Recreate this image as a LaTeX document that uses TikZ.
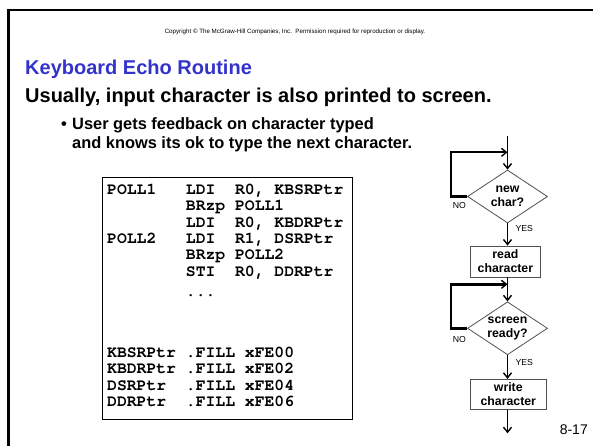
\documentclass[tikz,border=0pt]{standalone}
\usepackage{fontspec}
\setmainfont{Liberation Sans}
\newfontfamily\codefont{texgyrecursor}[Extension=.otf,UprightFont=*-regular,BoldFont=*-bold]
\usetikzlibrary{shapes.geometric,arrows.meta}
\definecolor{titleblue}{RGB}{51,51,204}
\definecolor{edgegray}{RGB}{80,80,80}

\begin{document}
\begin{tikzpicture}[x=1pt,y=-1pt,
  codeline/.style={anchor=base west,inner sep=0pt,font=\codefont\bfseries\fontsize{16.4}{16}\selectfont},
  chartfont/.style={font=\bfseries\fontsize{12.3}{14}\selectfont},
  decision/.style={diamond,aspect=1.5,draw=edgegray,line width=0.8pt,minimum width=80pt,minimum height=53pt,inner sep=0pt,align=center,chartfont},
  stepbox/.style={rectangle,draw=edgegray,line width=0.8pt,inner sep=0pt,align=center,chartfont},
  tip/.style={-{Straight Barb[length=5pt,width=8pt,line width=1.4pt]}},
  flow/.style={line width=1.8pt,tip},
  loopline/.style={line width=2.4pt,line join=miter,tip},
  tag/.style={font=\fontsize{8.7}{10}\selectfont,inner sep=0pt},
  textline/.style={anchor=base west,inner sep=0pt},
  bullettext/.style={textline,font=\bfseries\fontsize{16.4}{19}\selectfont}]

\useasboundingbox (0,0) rectangle (593,446);

% slide frame (left and top edges)
\draw[line width=2.5pt,line join=miter] (8.5,452) -- (8.5,10) -- (599,10);

% header texts
\node[inner sep=0pt,font=\fontsize{6.2}{7.5}\selectfont] (copy) at (295,31.7)
  {Copyright \textcopyright{} The McGraw-Hill Companies, Inc.\ \ Permission required for reproduction or display.};
\node[textline,text=titleblue,font=\bfseries\fontsize{20}{24}\selectfont] (title) at (25,74.5) {Keyboard Echo Routine};
\node[textline,font=\bfseries\fontsize{20}{24}\selectfont] (lead) at (25,103) {Usually, input character is also printed to screen.};
\node[bullettext] (dot) at (61,130) {\textbullet};
\node[bullettext] (b1) at (72,130) {User gets feedback on character typed};
\node[bullettext] (b2) at (72,148.5) {and knows its ok to type the next character.};

% assembly listing
\node[draw,line width=0.9pt,minimum width=250pt,minimum height=242pt,inner sep=0pt,anchor=north west] (codebox) at (101.5,177) {};
\node[codeline] (c1)  at (107,194.5) {POLL1~~~LDI~~R0,~KBSRPtr};
\node[codeline] (c2)  at (107,210.8) {~~~~~~~~BRzp~POLL1};
\node[codeline] (c3)  at (107,227.1) {~~~~~~~~LDI~~R0,~KBDRPtr};
\node[codeline] (c4)  at (107,243.4) {POLL2~~~LDI~~R1,~DSRPtr};
\node[codeline] (c5)  at (107,259.7) {~~~~~~~~BRzp~POLL2};
\node[codeline] (c6)  at (107,276.0) {~~~~~~~~STI~~R0,~DDRPtr};
\node[codeline] (c7)  at (107,296.5) {~~~~~~~~...};
\node[codeline] (c11) at (107,357.5) {KBSRPtr~.FILL~xFE00};
\node[codeline] (c12) at (107,373.8) {KBDRPtr~.FILL~xFE02};
\node[codeline] (c13) at (107,390.1) {DSRPtr~~.FILL~xFE04};
\node[codeline] (c14) at (107,406.4) {DDRPtr~~.FILL~xFE06};

% flowchart
\coordinate (top) at (507.5,136);
\node[decision] (d1) at (507.5,196.5) {new\\char?};
\node[stepbox,minimum width=70.7pt,minimum height=31pt] (rd) at (505.4,261.5) {read\\character};
\node[decision] (d2) at (507.5,328.3) {screen\\ready?};
\node[stepbox,minimum width=75.3pt,minimum height=30pt] (wr) at (508.3,394.3) {write\\character};
\coordinate (bot) at (507.5,433.3);
\coordinate (j1) at (507.5,152.3);
\coordinate (j2) at (507.5,284.3);
\coordinate (k1) at (451,152.3);
\coordinate (k2) at (451,284.3);

\draw[flow] (top) -- (d1.north);
\draw[flow] (d1.south) -- (d1.south |- rd.north);
\draw[flow] (d2.north |- rd.south) -- (d2.north);
\draw[flow] (d2.south) -- (d2.south |- wr.north);
\draw[flow] (bot |- wr.south) -- (bot);
\draw[loopline] (d1.west) -| (k1) -- (j1);
\draw[loopline] (d2.west) -| (k2) -- (j2);

\node[tag] (no1)  at (459.3,205.7) {NO};
\node[tag] (yes1) at (524.3,229) {YES};
\node[tag] (no2)  at (459.3,340) {NO};
\node[tag] (yes2) at (524.3,362.7) {YES};

\node[anchor=base east,inner sep=0pt,font=\fontsize{14}{16}\selectfont] (page) at (588,434) {8-17};
\end{tikzpicture}
\end{document}
